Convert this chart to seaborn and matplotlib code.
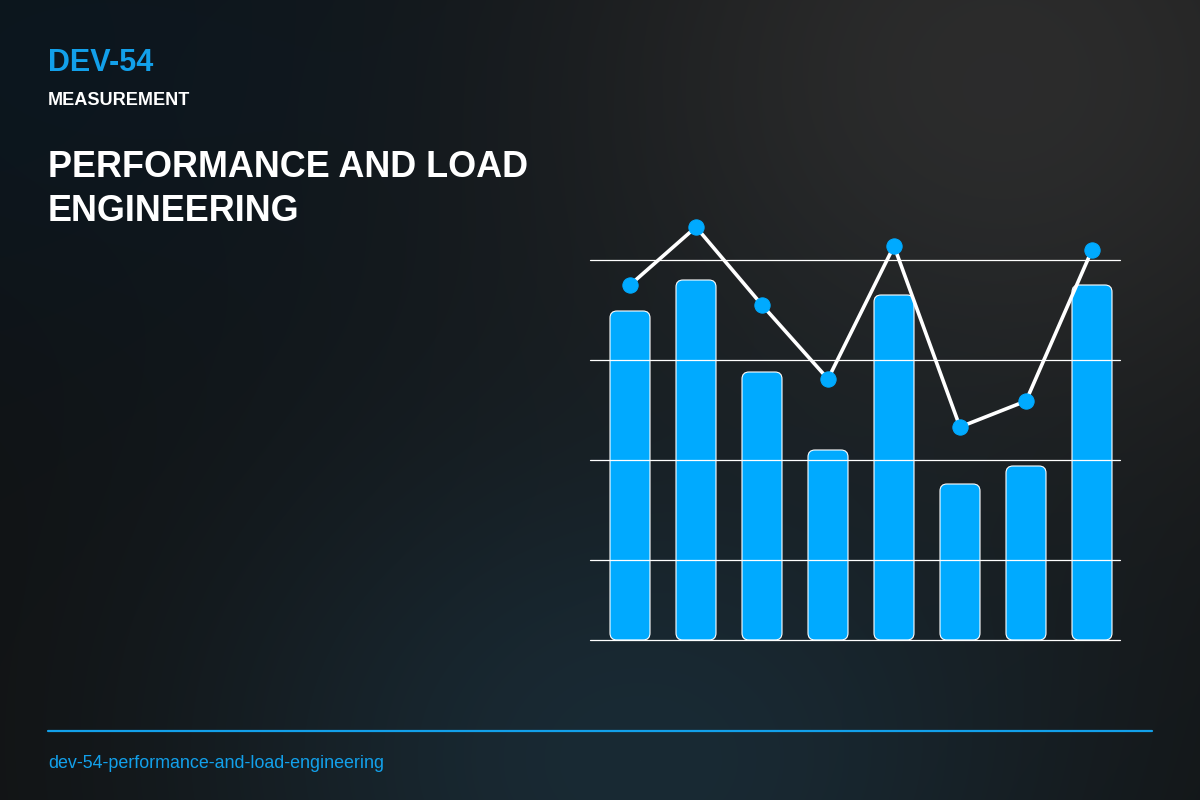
import numpy as np
import matplotlib
matplotlib.use("Agg")
import matplotlib.pyplot as plt
from matplotlib.patches import FancyBboxPatch
from matplotlib.lines import Line2D
import seaborn as sns

# data
categories = ["P1", "P2", "P3", "P4", "P5", "P6", "P7", "P8"]
bar_values = [82.25, 90.0, 67.0, 47.5, 86.25, 39.0, 43.5, 88.75]
line_values = [88.75, 103.25, 83.75, 65.25, 98.5, 53.25, 59.75, 97.5]
grid_levels = [0, 20, 45, 70, 95]

BLUE = "#00AAFF"
TEXT_BLUE = "#12A0EA"

sns.set_theme(style="white")
plt.rcParams["font.family"] = ["Liberation Sans", "DejaVu Sans"]

fig = plt.figure(figsize=(12, 8), dpi=100)

# ── background gradient ─────────────────────────────────────────────
yy, xx = np.mgrid[0:800, 0:1200].astype(float)
img = np.ones((800, 1200, 3)) * np.array([17, 17, 17]) / 255

def blend(img, cx, cy, sx, sy, col):
    w = np.exp(-(((xx - cx) / sx) ** 2 + ((yy - cy) / sy) ** 2) / 2)[..., None]
    c = np.array(col) / 255
    return img * (1 - w) + c * w

img = blend(img, 60, 60, 420, 240, [12, 22, 30])
img = blend(img, 1000, 80, 330, 300, [44, 44, 44])
img = blend(img, 640, 760, 330, 260, [25, 42, 52])

bg = fig.add_axes([0, 0, 1, 1], zorder=0)
bg.imshow(img, aspect="auto", extent=[0, 1200, 800, 0])
bg.axis("off")

# ── chart ───────────────────────────────────────────────────────────
ax = fig.add_axes([590 / 1200, 0.2, 530 / 1200, 0.55], zorder=1)
ax.patch.set_alpha(0)
sns.barplot(x=categories, y=bar_values, order=categories, color=BLUE,
            width=40 / 66, ax=ax, saturation=1)
ax.set_xlim(-40 / 66, 7 + 28 / 66)
ax.set_ylim(0, 110)

# swap plain bars for rounded ones
fig.canvas.draw()
p0 = ax.transData.transform((0, 0))
p1 = ax.transData.transform((1, 1))
asp = (p1[0] - p0[0]) / (p1[1] - p0[1])
r = 7 / (p1[0] - p0[0])
for patch in list(ax.patches):
    x0, w, h = patch.get_x(), patch.get_width(), patch.get_height()
    patch.remove()
    ax.add_patch(FancyBboxPatch((x0, 0), w, h,
                                boxstyle=f"round,pad=0,rounding_size={r}",
                                mutation_aspect=asp, facecolor=BLUE,
                                edgecolor="white", linewidth=0.8, zorder=2))

for g in grid_levels:
    ax.axhline(g, color="white", lw=0.9, zorder=3, clip_on=False)

sns.lineplot(x=categories, y=line_values, sort=False, ax=ax, color="white",
             lw=2.6, marker="o", markersize=11, markerfacecolor=BLUE,
             markeredgecolor=BLUE, zorder=4, clip_on=False)

ax.set_xlabel("")
ax.set_ylabel("")
ax.set_xticks([])
ax.set_yticks([])
sns.despine(ax=ax, left=True, bottom=True)

# ── header / footer texts ───────────────────────────────────────────
def fy(py):
    return 1 - py / 800

fig.text(48 / 1200, fy(71), "DEV-54", color=TEXT_BLUE, fontsize=22,
         fontweight="bold", va="baseline", zorder=5)
fig.text(48 / 1200, fy(105), "MEASUREMENT", color="white", fontsize=13.1,
         fontweight="bold", va="baseline", zorder=5)
fig.text(48 / 1200, fy(177), "PERFORMANCE AND LOAD", color="white",
         fontsize=25.9, fontweight="bold", va="baseline", zorder=5)
fig.text(48 / 1200, fy(221), "ENGINEERING", color="white",
         fontsize=25.9, fontweight="bold", va="baseline", zorder=5)

fig.add_artist(Line2D([48 / 1200, 1152 / 1200], [fy(731), fy(731)],
                      color=TEXT_BLUE, lw=1.6, zorder=5))
fig.text(48 / 1200, fy(768), "dev-54-performance-and-load-engineering",
         color=TEXT_BLUE, fontsize=12.9, va="baseline", zorder=5)

fig.savefig("out.png", dpi=100)
